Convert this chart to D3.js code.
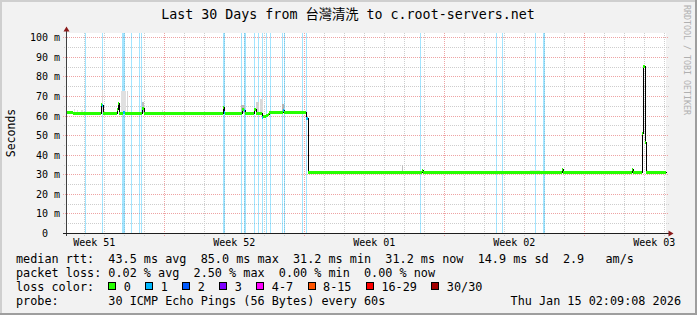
<!DOCTYPE html>
<html><head><meta charset="utf-8">
<script src="https://cdn.jsdelivr.net/npm/d3@7"></script>
<style>
html,body{margin:0;padding:0;background:#f2f2f2;}
svg{display:block;}
text{font-family:"DejaVu Sans Mono","Noto Sans CJK TC",monospace;white-space:pre;}
</style></head><body>
<svg id="c" width="697" height="315"></svg>
<script>
// ---------------- data ----------------
const windowStart = Date.UTC(2025, 11, 17, 2, 9);   // left edge of the graph
const windowDays = 30;
const stepDays = 0.05;                               // one rrd step (72 min)
const titleText = "Last 30 Days from 台灣清洗 to c.root-servers.net";
const yLabelText = "Seconds";
const yTickValues = [0, 10, 20, 30, 40, 50, 60, 70, 80, 90, 100];
const yTickLabels = ["0  ", "10 m", "20 m", "30 m", "40 m", "50 m", "60 m", "70 m", "80 m", "90 m", "100 m"];
const weekLabels = ["Week 51", "Week 52", "Week 01", "Week 02", "Week 03"];

// median rtt (ms) as a step series: day offset from windowStart, value, lost pings
const medianDay  = [0, 0.35, 1.725, 1.775, 1.85, 2.55, 2.6, 2.65, 2.85, 2.925, 3.8, 3.875,
                    7.85, 7.9, 7.95, 8.8, 8.875, 8.95, 9.375, 9.475, 9.8, 9.85, 10.0, 10.1, 10.15,
                    10.825, 10.9, 11.975, 12.075, 17.775, 17.825, 24.775, 24.825, 28.275, 28.325,
                    28.785, 28.85, 28.925, 28.975];
const medianMs   = [62.0, 61.4, 65.8, 65.2, 61.4, 63.5, 66.4, 61.4, 61.6, 61.4, 63.8, 61.4,
                    64.4, 62.0, 61.2, 63.6, 62.6, 61.2, 63.2, 61.2, 59.4, 59.6, 60.4, 61.0, 61.8,
                    62.8, 61.8, 59.0, 31.2, 32.4, 31.2, 32.6, 31.2, 32.8, 31.2,
                    51.3, 85.3, 46.5, 31.2];
const medianLoss = [0, 0, 0, 1, 0, 0, 0, 0, 1, 0, 0, 0,
                    0, 1, 0, 0, 1, 0, 0, 0, 1, 0, 0, 0, 0,
                    1, 0, 1, 0, 0, 0, 0, 0, 0, 0,
                    0, 0, 0, 0];

// smoke (spread of the individual pings)
const smokeFrom    = [0.38, 0.55, 0.75, 1.78, 2.75, 3.05, 3.78, 4.78, 8.75, 9.5, 9.7, 10.8, 16.78, 23.2, 28.98];
const smokeTo      = [0.42, 0.6, 0.85, 1.85, 3.0, 3.1, 3.9, 4.82, 8.95, 9.65, 9.87, 10.9, 16.82, 23.7, 29.1];
const smokeLowMs   = [61.0, 61.0, 61.0, 61.4, 61.4, 61.4, 61.4, 61.4, 61.2, 61.2, 61.2, 61.2, 31.2, 31.2, 31.2];
const smokeHighMs  = [63.2, 63.0, 63.0, 73.0, 72.7, 72.7, 67.0, 62.8, 65.4, 66.8, 68.3, 65.8, 34.7, 32.3, 32.2];
const smokeDensity = [0.12, 0.12, 0.12, 0.16, 0.12, 0.16, 0.25, 0.12, 0.28, 0.18, 0.15, 0.3, 0.25, 0.1, 0.1];

// packet loss events (day offset, lost pings of 30)
const lossDay   = [0.925, 1.79, 2.8, 2.85, 2.9, 3.25, 3.65, 3.74, 7.86, 7.91, 8.75, 8.9, 8.95,
                   9.41, 9.59, 9.79, 9.975, 10.19, 10.81, 10.885, 11.8, 12.015,
                   17.69, 21.49, 21.79, 23.46, 23.86, 23.91];
const lossPings = lossDay.map(() => 1);

const statsRtt  = "median rtt:  43.5 ms avg  85.0 ms max  31.2 ms min  31.2 ms now  14.9 ms sd  2.9   am/s";
const statsLoss = "packet loss: 0.02 % avg  2.50 % max  0.00 % min  0.00 % now";
const lossLegendLabels = ["0", "1", "2", "3", "4-7", "8-15", "16-29", "30/30"];
const lossLegendColors = ["#26ff00", "#00b8ff", "#0059ff", "#7e00ff", "#ff00ff", "#ff5500", "#ff0000", "#a10000"];
const probeText = "probe:       30 ICMP Echo Pings (56 Bytes) every 60s";
const stampText = "Thu Jan 15 02:09:08 2026";

// ---------------- drawing ----------------
const svg = d3.select("#c");
const W = 697, H = 315;
const DAY = 864e5;
const toDate = d => new Date(windowStart + d * DAY);
const x = d3.scaleUtc().domain([toDate(0), toDate(windowDays)]).range([66, 666]);
const y = d3.scaleLinear().domain([0, 102.2]).range([233, 33]);
const lossColor = n => lossLegendColors[Math.min(n, 7)];
const smokeColor = d3.scaleLinear().domain([0, 1]).range(["#ffffff", "#000000"]);

// background + frame
svg.append("rect").attr("width", W).attr("height", H).attr("fill", "#f2f2f2");
svg.append("rect").attr("x", 0).attr("y", 0).attr("width", W).attr("height", 2).attr("fill", "#cfcfcf");
svg.append("rect").attr("x", 0).attr("y", 0).attr("width", 2).attr("height", H).attr("fill", "#cfcfcf");
svg.append("rect").attr("x", 0).attr("y", H - 2).attr("width", W).attr("height", 2).attr("fill", "#9e9e9e");
svg.append("rect").attr("x", W - 2).attr("y", 0).attr("width", 2).attr("height", H).attr("fill", "#9e9e9e");

// canvas
svg.append("rect").attr("x", 66).attr("y", 33).attr("width", 600).attr("height", 200).attr("fill", "#fff");

// grid
const g = svg.append("g").attr("shape-rendering", "crispEdges");
const days = d3.utcDay.range(toDate(0), toDate(windowDays));
const mondays = d3.utcMonday.range(toDate(0), toDate(windowDays));
const isMonday = t => t.getUTCDay() === 1;
g.selectAll("line.vmin").data(days.filter(t => !isMonday(t))).join("line")
  .attr("x1", t => Math.round(x(t)) + 0.5).attr("x2", t => Math.round(x(t)) + 0.5)
  .attr("y1", 33).attr("y2", 236).attr("stroke", "#cdcdcd").attr("stroke-dasharray", "1,1");
const hMinor = d3.range(5, 101, 5).filter(v => v % 10 !== 0);
g.selectAll("line.hmin").data(hMinor).join("line")
  .attr("x1", 64).attr("x2", 669)
  .attr("y1", v => Math.round(y(v)) + 0.5).attr("y2", v => Math.round(y(v)) + 0.5)
  .attr("stroke", "#cdcdcd").attr("stroke-dasharray", "1,1");
g.selectAll("line.vmaj").data(mondays).join("line")
  .attr("x1", t => Math.round(x(t)) + 0.5).attr("x2", t => Math.round(x(t)) + 0.5)
  .attr("y1", 33).attr("y2", 237).attr("stroke", "#eea3a3").attr("stroke-dasharray", "1,1");
g.selectAll("line.hmaj").data(yTickValues.filter(v => v > 0)).join("line")
  .attr("x1", 63).attr("x2", 669)
  .attr("y1", v => Math.round(y(v)) + 0.5).attr("y2", v => Math.round(y(v)) + 0.5)
  .attr("stroke", "#eea3a3").attr("stroke-dasharray", "1,1");

// loss background bars
const px = d => Math.round(x(toDate(d)));
svg.append("g").attr("shape-rendering", "crispEdges").selectAll("rect")
  .data(lossDay.map((d, i) => ({ d, n: lossPings[i] }))).join("rect")
  .attr("x", o => px(o.d)).attr("width", o => Math.max(1, px(o.d + stepDays) - px(o.d)))
  .attr("y", 33).attr("height", 200)
  .attr("fill", o => lossColor(o.n)).attr("fill-opacity", 0.36);

// smoke
svg.append("g").attr("shape-rendering", "crispEdges").selectAll("rect")
  .data(smokeFrom.map((f, i) => ({ f, t: smokeTo[i], lo: smokeLowMs[i], hi: smokeHighMs[i], k: smokeDensity[i] }))).join("rect")
  .attr("x", o => px(o.f)).attr("width", o => Math.max(1, px(o.t) - px(o.f)))
  .attr("y", o => Math.round(y(o.hi))).attr("height", o => Math.round(y(o.lo)) - Math.round(y(o.hi)))
  .attr("fill", o => smokeColor(o.k));

// median: black step connector + coloured thick steps
const medPts = medianDay.map((d, i) => ({ d, v: medianMs[i], n: medianLoss[i] }));
const stepPts = medPts.concat([{ d: windowDays, v: medianMs[medianMs.length - 1] }]);
const stepLine = d3.line().x(p => px(p.d) + 0.5).y(p => Math.round(y(p.v)) + 0.5).curve(d3.curveStepAfter);
svg.append("path").attr("d", stepLine(stepPts)).attr("fill", "none")
  .attr("stroke", "#000").attr("stroke-width", 1).attr("shape-rendering", "crispEdges");
svg.append("g").attr("shape-rendering", "crispEdges").selectAll("rect")
  .data(medPts.map((p, i) => ({ ...p, e: i + 1 < medPts.length ? medPts[i + 1].d : windowDays }))).join("rect")
  .attr("x", p => px(p.d)).attr("width", p => Math.max(1, px(p.e) - px(p.d)))
  .attr("y", p => Math.round(y(p.v)) - 1).attr("height", 3)
  .attr("fill", p => lossColor(p.n));

// axes
const ax = svg.append("g").attr("shape-rendering", "crispEdges");
ax.append("line").attr("x1", 66.5).attr("x2", 66.5).attr("y1", 31).attr("y2", 236).attr("stroke", "#404040");
ax.append("line").attr("x1", 63).attr("x2", 669).attr("y1", 233.5).attr("y2", 233.5).attr("stroke", "#1f1f1f");
svg.append("path").attr("d", "M63.5,31.5L69.5,31.5L66.5,26.5Z").attr("fill", "#8b1a1a");
svg.append("path").attr("d", "M668.5,230.5L668.5,236.5L673.5,233.5Z").attr("fill", "#8b1a1a");

// y tick labels
svg.append("g").selectAll("text").data(yTickValues).join("text")
  .attr("x", 60).attr("y", v => Math.round(y(v)) + 4)
  .attr("text-anchor", "end").attr("font-size", "10px").attr("fill", "#000")
  .text((v, i) => yTickLabels[i]);

// week labels (centred mid-week)
const weekStarts = d3.utcMonday.range(toDate(-7), toDate(windowDays));
svg.append("g").selectAll("text").data(weekStarts.slice(0, weekLabels.length)).join("text")
  .attr("x", t => x(new Date(+t + 3.5 * DAY))).attr("y", 246)
  .attr("text-anchor", "middle").attr("font-size", "10px").attr("fill", "#000")
  .text((t, i) => weekLabels[i]);

// title, axis label, watermark
svg.append("text").attr("x", 348).attr("y", 19).attr("text-anchor", "middle")
  .attr("font-size", "13.3px").attr("fill", "#000").text(titleText);
svg.append("text").attr("transform", "translate(15,133) rotate(-90)").attr("text-anchor", "middle")
  .attr("font-size", "11.5px").attr("fill", "#000").text(yLabelText);
svg.append("text").attr("transform", "translate(684,5) rotate(90)").attr("text-anchor", "start")
  .attr("font-size", "8.3px").attr("fill", "#b0b0b0").text("RRDTOOL / TOBI OETIKER");

// legend
const lf = "11.8px";
const charW = 7.11;
svg.append("text").attr("x", 16).attr("y", 263).attr("font-size", lf).text(statsRtt);
svg.append("text").attr("x", 16).attr("y", 277).attr("font-size", lf).text(statsLoss);
svg.append("text").attr("x", 16).attr("y", 291).attr("font-size", lf).text("loss color:");
const lg = svg.append("g");
let bx = 108.3;
lossLegendLabels.forEach((lab, i) => {
  lg.append("rect").attr("x", Math.round(bx) + 0.5).attr("y", 282.5).attr("width", 7).attr("height", 7)
    .attr("fill", lossLegendColors[i]).attr("stroke", "#000").attr("stroke-width", 1);
  lg.append("text").attr("x", bx + 15.5).attr("y", 291).attr("font-size", lf).text(lab);
  bx += 15.5 + lab.length * charW + 14.4;
});
svg.append("text").attr("x", 16).attr("y", 305).attr("font-size", lf).text(probeText);
svg.append("text").attr("x", 681).attr("y", 305).attr("text-anchor", "end").attr("font-size", lf).text(stampText);
</script>
</body></html>
